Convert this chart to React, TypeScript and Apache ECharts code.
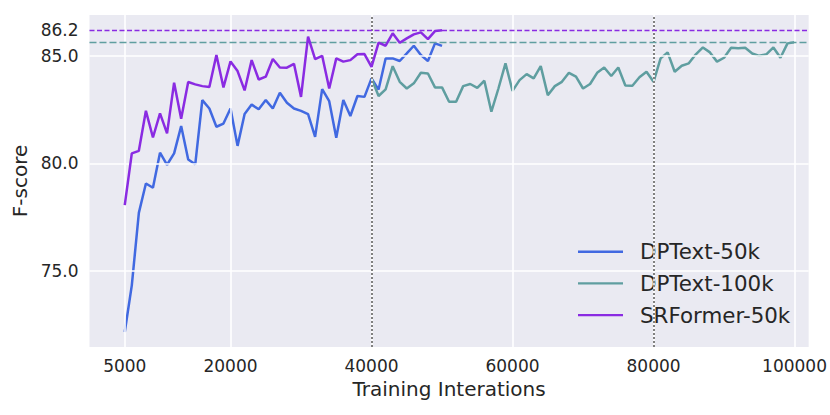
import React, { useEffect, useRef } from "react";
import * as echarts from "echarts";

// Evaluation checkpoints (every 1000 iterations)
const START_50K = 5000;
const START_100K = 40000;
const STEP = 1000;

const DPTEXT_50K = [
  72.16, 74.33, 77.7, 79.07, 78.87, 80.5, 79.94, 80.47, 81.74, 80.19,
  79.96, 82.95, 82.56, 81.71, 81.86, 82.56, 80.82, 82.3, 82.74, 82.52,
  82.95, 82.56, 83.29, 82.83, 82.56, 82.45, 82.3, 81.24, 83.46, 82.9,
  81.2, 82.95, 82.21, 83.14, 83.1, 83.96, 83.44, 84.89, 84.89, 84.77,
  85.12, 85.48, 85.05, 84.77, 85.59, 85.47,
];

const SRFORMER_50K = [
  78.06, 80.47, 80.59, 82.45, 81.21, 82.33, 81.4, 83.76, 82.08, 83.79,
  83.68, 83.6, 83.56, 85.05, 83.54, 84.75, 84.3, 83.4, 84.81, 83.91,
  84.04, 84.86, 84.47, 84.46, 84.64, 83.1, 85.9, 84.86, 85.01, 83.49,
  84.89, 84.74, 84.81, 85.08, 85.09, 84.5, 85.62, 85.48, 86.06, 85.62,
  85.82, 86.01, 86.1, 85.79, 86.16, 86.2,
];

const DPTEXT_100K = [
  83.96, 83.14, 83.45, 84.53, 83.8, 83.49, 83.73, 84.22, 84.19, 83.54,
  83.54, 82.87, 82.87, 83.6, 83.7, 83.52, 83.85, 82.41, 83.49, 84.66,
  83.38, 83.88, 84.16, 83.96, 84.53, 83.18, 83.6, 83.8, 84.22, 84.04,
  83.49, 83.7, 84.22, 84.47, 84.07, 84.47, 83.63, 83.62, 84.01, 84.27,
  83.8, 84.89, 85.17, 84.27, 84.55, 84.66, 85.08, 85.4, 85.17, 84.74,
  84.92, 85.39, 85.36, 85.39, 85.12, 85.01, 85.08, 85.4, 84.92, 85.59,
  85.64,
];

const X_TICKS = [5000, 20000, 40000, 60000, 80000, 100000];
const Y_TICKS = [75, 80, 85, 86.2];
const Y_GRID = [75, 80, 85];
const MARKER_ITERS = [40000, 80000];
const BEST_SRFORMER = 86.2;
const BEST_DPTEXT = 85.64;

const NAMES = ["DPText-50k", "DPText-100k", "SRFormer-50k"];
const COLORS = ["#4169E1", "#5F9EA0", "#8A2BE2"];

const toPairs = (start: number, vals: number[]) =>
  vals.map((v, i) => [start + i * STEP, v]);

const FONT = "DejaVu Sans";
const TEXT = "#262626";
const LW = 2.5;

export default function App() {
  const ref = useRef<HTMLDivElement>(null);
  useEffect(() => {
    if (!ref.current) return;
    const chart = echarts.init(ref.current, undefined, { renderer: "svg" });
    chart.setOption({
      animation: false,
      textStyle: { fontFamily: FONT },
      grid: {
        left: 89.5,
        top: 15,
        width: 721,
        height: 332,
        show: true,
        backgroundColor: "#EAEAF2",
        borderWidth: 0,
      },
      xAxis: {
        type: "value",
        min: 0,
        max: 102000,
        axisLine: { show: false },
        axisTick: { show: false },
        splitLine: { show: false },
        axisLabel: {
          customValues: X_TICKS,
          formatter: (v: number) => String(v),
          fontSize: 17,
          color: TEXT,
          fontFamily: FONT,
          margin: 10,
        },
        name: "Training Interations",
        nameLocation: "middle",
        nameGap: 30,
        nameTextStyle: { fontSize: 20, color: TEXT, fontFamily: FONT },
      },
      yAxis: {
        type: "value",
        min: 71.46,
        max: 86.91,
        axisLine: { show: false },
        axisTick: { show: false },
        splitLine: { show: false },
        axisLabel: {
          customValues: Y_TICKS,
          formatter: (v: number) => v.toFixed(1),
          fontSize: 17,
          color: TEXT,
          fontFamily: FONT,
          margin: 11,
        },
        name: "F-score",
        nameLocation: "middle",
        nameGap: 50,
        nameRotate: 90,
        nameTextStyle: { fontSize: 20, color: TEXT, fontFamily: FONT },
      },
      legend: {
        data: NAMES,
        orient: "vertical",
        left: 578,
        top: 241,
        padding: 0,
        icon: "rect",
        itemWidth: 45,
        itemHeight: 2.4,
        itemGap: 10.3,
        textStyle: {
          fontSize: 21.4,
          lineHeight: 21.4,
          color: TEXT,
          fontFamily: FONT,
          padding: [0, 0, 0, 12],
        },
      },
      series: [
        {
          name: "grid",
          type: "line",
          z: 1,
          data: [[0, 80]],
          symbol: "none",
          lineStyle: { opacity: 0 },
          silent: true,
          markLine: {
            silent: true,
            symbol: "none",
            label: { show: false },
            lineStyle: { color: "#ffffff", width: 1.6, type: "solid" },
            data: [
              ...X_TICKS.map((x) => ({ xAxis: x })),
              ...Y_GRID.map((y) => ({ yAxis: y })),
            ],
          },
        },
        {
          name: "markers",
          type: "line",
          z: 2,
          data: [[0, 80]],
          symbol: "none",
          lineStyle: { opacity: 0 },
          silent: true,
          markLine: {
            silent: true,
            symbol: "none",
            label: { show: false },
            lineStyle: { color: "#808080", width: 2, type: [2, 2] },
            data: MARKER_ITERS.map((x) => ({ xAxis: x })),
          },
        },
        {
          name: NAMES[0],
          type: "line",
          z: 3,
          data: toPairs(START_50K, DPTEXT_50K),
          symbol: "none",
          color: COLORS[0],
          itemStyle: { color: COLORS[0] },
          lineStyle: { width: LW, color: COLORS[0] },
        },
        {
          name: NAMES[1],
          type: "line",
          z: 4,
          data: toPairs(START_100K, DPTEXT_100K),
          symbol: "none",
          color: COLORS[1],
          itemStyle: { color: COLORS[1] },
          lineStyle: { width: LW, color: COLORS[1] },
        },
        {
          name: NAMES[2],
          type: "line",
          z: 5,
          data: toPairs(START_50K, SRFORMER_50K),
          symbol: "none",
          color: COLORS[2],
          itemStyle: { color: COLORS[2] },
          lineStyle: { width: LW, color: COLORS[2] },
        },
        {
          name: "best",
          type: "line",
          z: 6,
          data: [[0, 80]],
          symbol: "none",
          lineStyle: { opacity: 0 },
          silent: true,
          markLine: {
            silent: true,
            symbol: "none",
            label: { show: false },
            data: [
              {
                yAxis: BEST_SRFORMER,
                lineStyle: { color: COLORS[2], width: 1.3, type: [5, 2.5] },
              },
              {
                yAxis: BEST_DPTEXT,
                lineStyle: { color: COLORS[1], width: 1.3, type: [7, 3] },
              },
            ],
          },
        },
      ],
    });
    return () => chart.dispose();
  }, []);
  return (
    <div
      ref={ref}
      style={{ position: "fixed", left: 0, top: 0, width: 830, height: 415, background: "#ffffff" }}
    />
  );
}
